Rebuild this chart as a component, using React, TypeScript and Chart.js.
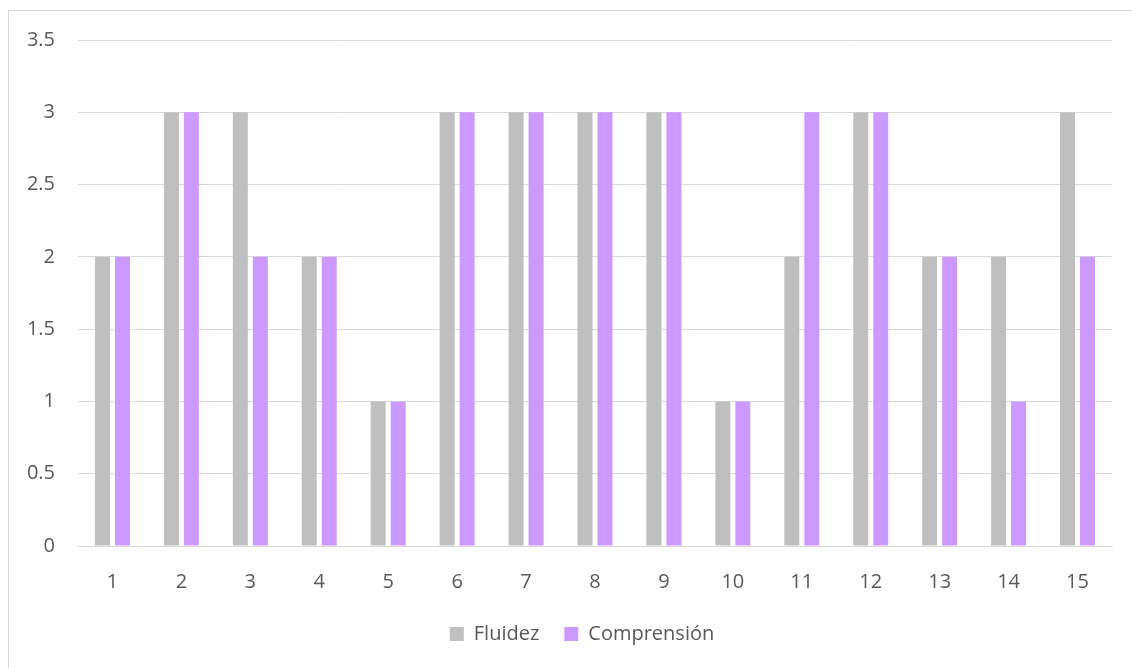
import { useEffect, useRef } from "react";
import { Chart, registerables } from "chart.js";

Chart.register(...registerables);

const labels = ["1", "2", "3", "4", "5", "6", "7", "8", "9", "10", "11", "12", "13", "14", "15"];
const fluidez = [2, 3, 3, 2, 1, 3, 3, 3, 3, 1, 2, 3, 2, 2, 3];
const comprension = [2, 3, 2, 2, 1, 3, 3, 3, 3, 1, 3, 3, 2, 1, 2];

// the legend is centred on the whole chart box in the original, not on the plot
const legendShift = {
  id: "legendShift",
  afterLayout(chart: Chart) {
    const legend = chart.legend as any;
    if (!legend) return;
    legend.left -= 13;
    legend.right -= 13;
  },
};

const App = () => {
  const canvasRef = useRef<HTMLCanvasElement | null>(null);
  const chartRef = useRef<Chart | null>(null);

  useEffect(() => {
    if (!canvasRef.current) return;
    if (chartRef.current) chartRef.current.destroy();

    const font = { family: "'Open Sans', 'Noto Sans', sans-serif", size: 20 };

    chartRef.current = new Chart(canvasRef.current, {
      type: "bar",
      data: {
        labels,
        datasets: [
          {
            label: "Fluidez",
            data: fluidez,
            backgroundColor: "#BFBFBF",
            categoryPercentage: 0.58,
            barPercentage: 0.75,
          },
          {
            label: "Comprensión",
            data: comprension,
            backgroundColor: "#CC99FF",
            categoryPercentage: 0.58,
            barPercentage: 0.75,
          },
        ],
      },
      options: {
        animation: false,
        responsive: true,
        maintainAspectRatio: false,
        layout: { padding: { left: 0, right: 40, top: 29, bottom: 14 } },
        scales: {
          x: {
            afterFit: (scale) => {
              scale.height = scale.height - 19;
            },
            grid: { display: false, drawTicks: false },
            border: { color: "#D9D9D9", width: 1 },
            ticks: { color: "#595959", font, padding: 24 },
          },
          y: {
            min: 0,
            max: 3.5,
            afterFit: (scale) => {
              scale.width = 69;
              scale.paddingTop = 0;
              scale.paddingBottom = 0;
            },
            grid: { color: "#D9D9D9", drawTicks: false },
            border: { display: false },
            ticks: {
              stepSize: 0.5,
              color: "#595959",
              font,
              padding: 23,
              callback: (v) => String(v),
            },
          },
        },
        plugins: {
          legend: {
            position: "bottom",
            fullSize: false,
            labels: {
              color: "#595959",
              font,
              boxWidth: 14,
              boxHeight: 14,
              padding: 25,
            },
          },
          tooltip: { enabled: false },
        },
      },
      plugins: [legendShift],
    });

    return () => {
      if (chartRef.current) {
        chartRef.current.destroy();
        chartRef.current = null;
      }
    };
  }, []);

  return (
    <div
      style={{
        position: "absolute",
        left: 8,
        top: 10,
        width: 1144,
        height: 680,
        border: "1px solid #D9D9D9",
        background: "#fff",
        boxSizing: "border-box",
      }}
    >
      <div style={{ position: "relative", width: 1143, height: 657 }}>
        <canvas ref={canvasRef} />
      </div>
    </div>
  );
};

export default App;
